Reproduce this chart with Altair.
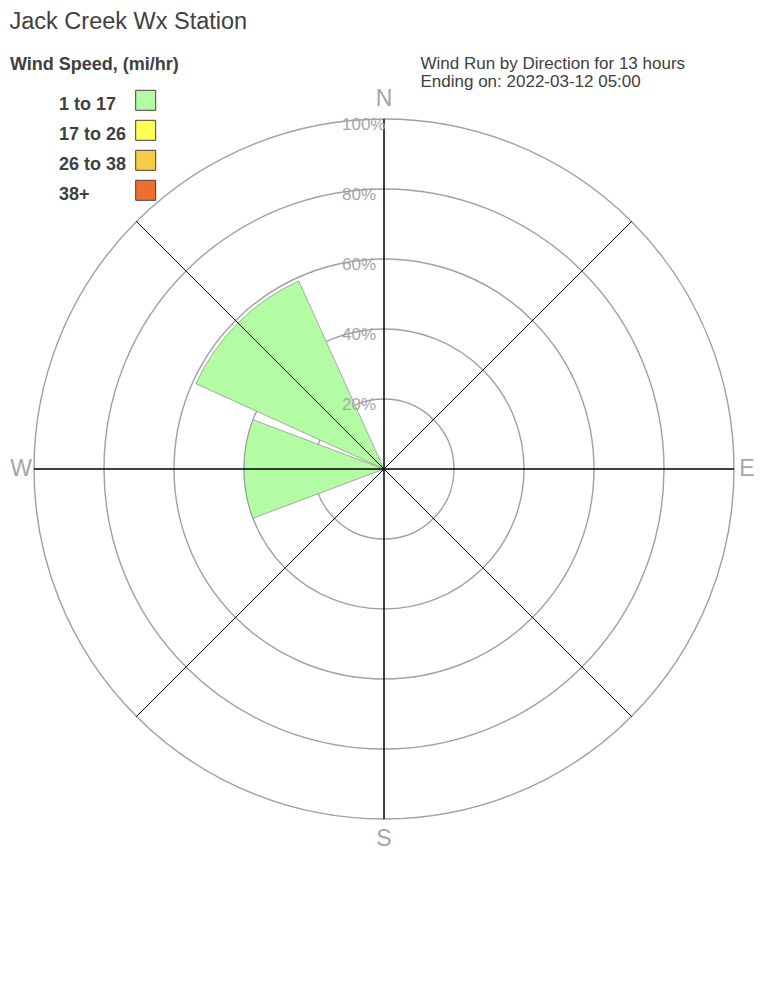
import math
import altair as alt
import pandas as pd

# ---------------- data ----------------
TITLE = "Jack Creek Wx Station"
LEGEND_TITLE = "Wind Speed, (mi/hr)"
INFO_LINE1 = "Wind Run by Direction for 13 hours"
INFO_LINE2 = "Ending on: 2022-03-12 05:00"

directions = ["N", "NE", "E", "SE", "S", "SW", "W", "NW"]
direction_deg = [0, 45, 90, 135, 180, 225, 270, 315]

speed_bins = ["1 to 17", "17 to 26", "26 to 38", "38+"]
pct_1_17 = [0, 0, 0, 0, 0, 0, 40, 59]
pct_17_26 = [0, 0, 0, 0, 0, 0, 0, 0]
pct_26_38 = [0, 0, 0, 0, 0, 0, 0, 0]
pct_38_up = [0, 0, 0, 0, 0, 0, 0, 0]

ring_pct = [20, 40, 60, 80, 100]
compass_labels = ["N", "E", "S", "W"]
compass_deg = [0, 90, 180, 270]
spoke_deg = [0, 45, 90, 135, 180, 225, 270, 315]

# ---------------- styles ----------------
bin_colors = ["#b4fca4", "#ffff55", "#f7cd46", "#ee6f2d"]
GRID_GRAY = "#a0a0a0"
TEXT_GRAY = "#a6a6a6"
DARK = "#404040"
WEDGE_HALF = 20.6
FONT = "Liberation Sans"

# ---------------- tables ----------------
rows = []
series = [pct_1_17, pct_17_26, pct_26_38, pct_38_up]
for d_i, (name, deg) in enumerate(zip(directions, direction_deg)):
    base = 0.0
    for b_i, b in enumerate(speed_bins):
        v = series[b_i][d_i]
        rows.append({"dir": name, "deg": deg, "bin": b, "pct": v,
                     "r0": base, "r1": base + v})
        base += v
wind_df = pd.DataFrame(rows)
wind_df = wind_df[wind_df["pct"] > 0]

ring_df = pd.DataFrame({"pct": ring_pct})
compass_df = pd.DataFrame({"label": compass_labels, "deg": compass_deg})
spoke_df = pd.DataFrame({"deg": spoke_deg})
bin_df = pd.DataFrame({"bin": speed_bins})

theta_scale = alt.Scale(domain=[0, 360], range=[0, 2 * math.pi])
radius_scale = alt.Scale(type="linear", domain=[0, 100], range=[0, 350], zero=True)
color_scale = alt.Scale(domain=speed_bins, range=bin_colors)
legend_y = alt.Scale(type="point", domain=speed_bins, range=[92.3, 182.3], padding=0)

rings = alt.Chart(ring_df).mark_arc(
    filled=False, stroke=GRID_GRAY, strokeWidth=1.4
).encode(
    theta=alt.value(0),
    theta2=alt.value(2 * math.pi),
    radius=alt.Radius("pct:Q", scale=radius_scale, stack=False),
)

wedges = alt.Chart(wind_df).transform_calculate(
    t0=f"datum.deg - {WEDGE_HALF}", t1=f"datum.deg + {WEDGE_HALF}"
).mark_arc(stroke="#8a8a8a", strokeWidth=0.7).encode(
    theta=alt.Theta("t0:Q", scale=theta_scale, stack=False),
    theta2=alt.Theta2("t1:Q"),
    radius=alt.Radius("r1:Q", scale=radius_scale, stack=False),
    radius2=alt.Radius2("r0:Q"),
    color=alt.Color("bin:N", scale=color_scale, legend=None),
)

spokes = alt.Chart(spoke_df).mark_arc(
    filled=False, stroke="black", strokeWidth=1
).encode(
    theta=alt.Theta("deg:Q", scale=theta_scale, stack=False),
    theta2=alt.Theta2("deg:Q"),
    radius=alt.value(350),
)

ring_labels = alt.Chart(ring_df).transform_calculate(
    lab="datum.pct + '%'"
).mark_text(
    align="left", baseline="alphabetic", dx=-42, dy=11,
    fontSize=17, color=TEXT_GRAY
).encode(
    theta=alt.value(0),
    radius=alt.Radius("pct:Q", scale=radius_scale, stack=False),
    text="lab:N",
)

compass_ns = alt.Chart(compass_df).transform_filter(
    "datum.deg % 180 == 0"
).mark_text(
    align="center", baseline="middle", fontSize=23, color=TEXT_GRAY
).encode(
    theta=alt.Theta("deg:Q", scale=theta_scale, stack=False),
    radius=alt.value(370),
    text="label:N",
)

compass_ew = alt.Chart(compass_df).transform_filter(
    "datum.deg % 180 != 0"
).mark_text(
    align="center", baseline="middle", fontSize=23, color=TEXT_GRAY
).encode(
    theta=alt.Theta("deg:Q", scale=theta_scale, stack=False),
    radius=alt.value(363),
    text="label:N",
)

legend_sq = alt.Chart(bin_df).mark_square(
    size=400, stroke=DARK, strokeWidth=1, opacity=1
).encode(
    x=alt.value(137.7),
    y=alt.Y("bin:N", scale=legend_y, axis=None),
    color=alt.Color("bin:N", scale=color_scale, legend=None),
)

legend_txt = alt.Chart(bin_df).mark_text(
    align="left", baseline="alphabetic", dy=10,
    fontSize=18, fontWeight="bold", color=DARK
).encode(
    x=alt.value(51),
    y=alt.Y("bin:N", scale=legend_y, axis=None),
    text="bin:N",
)


def static_text(txt, x, y, size, weight="normal"):
    return alt.Chart(pd.DataFrame({"t": [txt]})).mark_text(
        align="left", baseline="alphabetic", fontSize=size,
        fontWeight=weight, color=DARK
    ).encode(x=alt.value(x), y=alt.value(y), text="t:N")


title_t = static_text(TITLE, 1.5, 21.3, 23.5)
legend_title_t = static_text(LEGEND_TITLE, 2, 62, 18, "bold")
info1 = static_text(INFO_LINE1, 412.5, 60.5, 17)
info2 = static_text(INFO_LINE2, 412.5, 79, 17)

chart = alt.layer(
    rings, wedges, spokes, ring_labels, compass_ns, compass_ew,
    legend_sq, legend_txt, title_t, legend_title_t, info1, info2
).properties(
    width=752, height=922,
    autosize=alt.AutoSizeParams(type="none"),
    padding=0,
).configure(font=FONT).configure_view(strokeWidth=0, stroke=None)

chart.save("out.html", embed_options={"renderer": "svg", "actions": False})
